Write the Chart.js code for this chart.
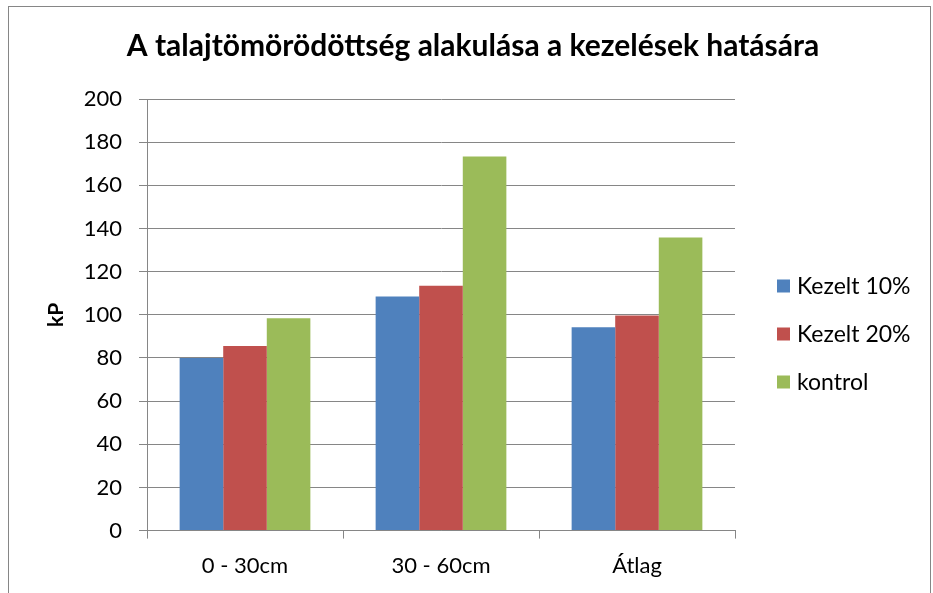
<!DOCTYPE html>
<html><head><meta charset="utf-8">
<script src="https://cdn.jsdelivr.net/npm/chart.js@4"></script>
<style>
html,body{margin:0;padding:0;background:#fff;overflow:hidden}
#wrap{position:relative;width:933px;height:593px;background:#fff}
#frame{position:absolute;left:8px;top:6px;width:923px;height:600px;border:1px solid #868686;box-sizing:border-box}
canvas{position:absolute;left:0;top:0}
</style></head><body>
<div id="wrap"><div id="frame"></div><canvas id="c" width="933" height="593"></canvas></div>
<script>
const categories = ['0 - 30cm', '30 - 60cm', 'Átlag'];
const seriesNames = ['Kezelt 10%', 'Kezelt 20%', 'kontrol'];
const kezelt10 = [80, 108.5, 94.2];
const kezelt20 = [85.5, 113.5, 99.7];
const kontrol = [98.4, 173.3, 135.8];
const yMin = 0, yMax = 200, yStep = 20;
const chartTitle = 'A talajtömörödöttség alakulása a kezelések hatására';
const yTitle = 'kP';
const colors = ['#4F81BD', '#C0504D', '#9BBB59'];

const FONT = 'Lato, "Open Sans", sans-serif';

const decorPlugin = {
  id: 'decor',
  afterDraw(chart) {
    const ctx = chart.ctx;
    ctx.save();
    // title
    ctx.font = 'bold 30px ' + FONT;
    ctx.fillStyle = '#000';
    ctx.textAlign = 'center';
    ctx.textBaseline = 'alphabetic';
    ctx.fillText(chartTitle, 473, 56);
    // legend
    const x0 = 777, y0 = 286, dy = 48, box = 13;
    ctx.font = '23px ' + FONT;
    ctx.textBaseline = 'middle';
    ctx.textAlign = 'left';
    chart.data.datasets.forEach((ds, i) => {
      const y = y0 + i * dy;
      ctx.fillStyle = ds.backgroundColor;
      ctx.fillRect(x0, y - box / 2, box, box);
      ctx.fillStyle = '#000';
      ctx.fillText(ds.label, 797, y + 1);
    });
    ctx.restore();
  }
};

new Chart(document.getElementById('c'), {
  type: 'bar',
  data: {
    labels: categories,
    datasets: [
      { label: seriesNames[0], data: kezelt10, backgroundColor: colors[0] },
      { label: seriesNames[1], data: kezelt20, backgroundColor: colors[1] },
      { label: seriesNames[2], data: kontrol, backgroundColor: colors[2] }
    ]
  },
  options: {
    responsive: false,
    animation: false,
    devicePixelRatio: 1,
    layout: { padding: { left: 30, right: 198, top: 99, bottom: 0 } },
    datasets: { bar: { barPercentage: 1, categoryPercentage: 0.667, borderWidth: 0 } },
    plugins: {
      legend: { display: false },
      tooltip: { enabled: false },
      title: { display: false }
    },
    scales: {
      x: {
        grid: { display: true, drawOnChartArea: false, drawTicks: true, tickLength: 8, color: '#868686', offset: true },
        border: { color: '#868686', width: 1 },
        ticks: { color: '#000', font: { family: FONT, size: 22 }, padding: 14 }
      },
      y: {
        min: yMin, max: yMax,
        afterFit(scale) { scale.width = 117; },
        grid: { color: '#868686', tickLength: 8 },
        border: { color: '#868686', width: 1 },
        ticks: { stepSize: yStep, color: '#000', font: { family: FONT, size: 22 }, padding: 17 },
        title: { display: true, text: yTitle, color: '#000', font: { family: FONT, size: 21, weight: 'bold' }, padding: { top: 14, bottom: 0 } }
      }
    }
  },
  plugins: [decorPlugin]
});
</script>
</body></html>
